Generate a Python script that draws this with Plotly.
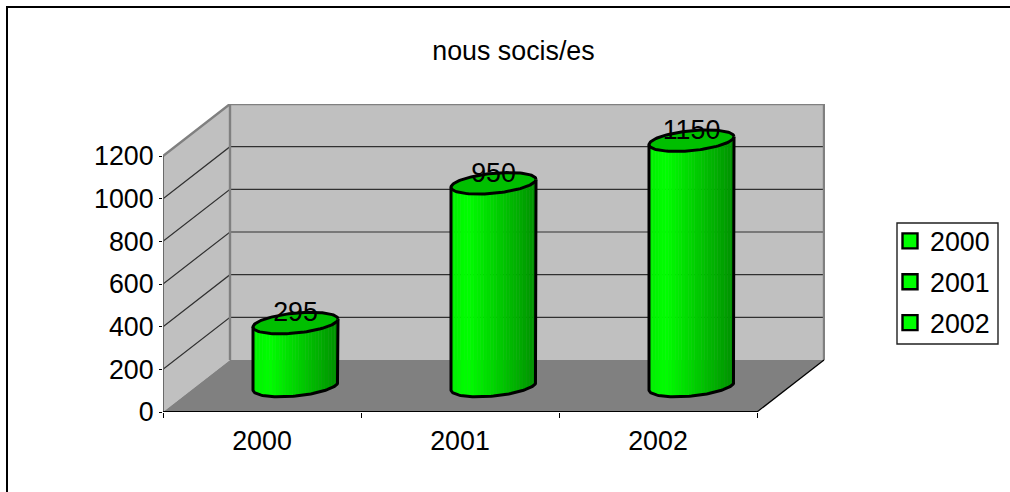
import math
import plotly.graph_objects as go

categories = ["2000", "2001", "2002"]
values = [295, 950, 1150]
y_ticks = [0, 200, 400, 600, 800, 1000, 1200]
title_text = "nous socis/es"

W, H = 1010, 492
L, R, T, B = 163, 825, 104, 412           # plot rectangle in pixels
PX_X = 198.0                              # pixels per category
PX_Y = 256.0 / 1200.0                     # pixels per value unit
DX = 67.0 / PX_X                          # chart depth, in axis units
DY = 52.0 / PX_Y
X0 = -0.5
X1 = 2.5
FONT = "Liberation Sans, Arial, sans-serif"
FS = 26.8
A = 42.5 / PX_X                           # cylinder half-width
EB = 10.0 / PX_Y                          # ellipse half-height
ES = 4.0 / PX_Y                           # ellipse tilt

fig = go.Figure()


def poly(xs, ys, fill=None, line=None, width=0, **kw):
    fig.add_trace(go.Scatter(
        x=xs, y=ys, mode="lines", fill="toself" if fill else None,
        fillcolor=fill, line=dict(color=line or "rgba(0,0,0,0)", width=width),
        hoverinfo="skip", showlegend=False, cliponaxis=False, **kw))


# walls and floor
poly([X0, X0 + DX, X0 + DX, X0], [0, DY, 1200 + DY, 1200], fill="#C0C0C0")
poly([X0 + DX, X1 + DX, X1 + DX, X0 + DX], [DY, DY, 1200 + DY, 1200 + DY], fill="#C0C0C0")
poly([X0, X1, X1 + DX, X0 + DX, X0], [0, 0, DY, DY, 0], fill="#808080")

# gridlines
for v in y_ticks[1:-1]:
    poly([X0, X0 + DX, X1 + DX], [v, v + DY, v + DY], line="#303030", width=1.2)

# wall borders
poly([X0, X0 + DX, X1 + DX, X1 + DX], [1200, 1200 + DY, 1200 + DY, DY], line="#808080", width=2.4)
poly([X0 + DX, X0 + DX], [DY, 1200 + DY], line="#808080", width=2.4)
poly([X0, X0], [0, 1200], line="#606060", width=1.8)
poly([X1, X1 + DX], [0, DY], line="#000000", width=1.2)
poly([X0, X1], [0, 0], line="#000000", width=1.8)


def green(u):
    if u < 0.2:
        g = 240 + 15 * u / 0.2
    else:
        g = 255 - (u - 0.2) / 0.8 * 110
    return f"rgb(0,{int(g)},0)"


def arc(cx, cy, n=60, start=0.0, end=math.pi):
    xs, ys = [], []
    for i in range(n + 1):
        t = start + (end - start) * i / n
        xs.append(cx + A * math.cos(t))
        ys.append(cy + ES * math.cos(t) - EB * math.sin(t))
    return xs, ys


# cylinders
for i, v in enumerate(values):
    cx = i + DX / 2
    base = DY / 2
    top = v + DY / 2
    n = 26
    for k in range(n):
        u0, u1 = k / n, (k + 1) / n
        c0, c1 = 2 * u0 - 1, 2 * u1 - 1
        s0 = math.sqrt(max(0, 1 - c0 * c0))
        s1 = math.sqrt(max(0, 1 - c1 * c1))
        xa, xb = cx + A * c0, cx + A * c1
        col = green((u0 + u1) / 2)
        poly([xa, xb, xb, xa, xa],
             [base + ES * c0 - EB * s0, base + ES * c1 - EB * s1,
              top + ES * c1 - EB * s1, top + ES * c0 - EB * s0, base + ES * c0 - EB * s0],
             fill=col, line=col, width=0.5)
    # outline of the side
    ax, ay = arc(cx, base)
    poly([cx + A] + ax + [cx - A], [top + ES] + ay + [top - ES], line="#000000", width=3)
    # top ellipse
    ex, ey = arc(cx, top, n=120, start=0, end=2 * math.pi)
    poly(ex, ey, fill="#00BF00", line="#000000", width=3)

# data labels
fig.add_trace(go.Scatter(
    x=[i + DX / 2 for i in range(len(values))],
    y=[v + DY / 2 + 8.5 / PX_Y for v in values],
    text=[str(v) for v in values], mode="text", textposition="middle center",
    textfont=dict(family=FONT, size=FS, color="#000000"),
    hoverinfo="skip", showlegend=False, cliponaxis=False))

# legend entries
for c in categories:
    fig.add_trace(go.Scatter(
        x=[None], y=[None], mode="markers", name=c, legendgroup=c,
        marker=dict(symbol="square", size=15, color="#00FF00",
                    line=dict(color="#000000", width=2.4))))


def px(x):
    return (x - L) / (R - L)


def py(y):
    return (B - y) / (B - T)


fig.update_layout(
    width=W, height=H, autosize=False,
    margin=dict(l=L, r=W - R, t=T, b=H - B, pad=0, autoexpand=False),
    paper_bgcolor="#FFFFFF", plot_bgcolor="#FFFFFF",
    font=dict(family=FONT, size=FS, color="#000000"),
    title=dict(text=title_text, x=513.5 / W, xref="container", xanchor="center",
               y=1 - 50.5 / H, yref="container", yanchor="middle",
               font=dict(family=FONT, size=FS, color="#000000")),
    xaxis=dict(range=[X0, X0 + (R - L) / PX_X], tickvals=list(range(3)), ticktext=categories,
               showgrid=False, zeroline=False, showline=False,
               ticks="outside", ticklen=1, tickcolor="rgba(0,0,0,0)", ticklabelstandoff=4,
               minor=dict(tickvals=[-0.5, 0.5, 1.5, 2.5], ticks="outside", ticklen=5,
                          tickcolor="#000000", tickwidth=1),
               tickfont=dict(family=FONT, size=FS)),
    yaxis=dict(range=[0, (B - T) / PX_Y], tickvals=y_ticks,
               showgrid=False, zeroline=False, showline=False,
               ticks="outside", ticklen=3, tickcolor="#000000", tickwidth=1, ticklabelstandoff=0,
               tickfont=dict(family=FONT, size=FS)),
    legend=dict(x=px(890), y=py(217), xanchor="left", yanchor="top",
                bgcolor="rgba(0,0,0,0)", borderwidth=0,
                tracegroupgap=3, itemwidth=30, font=dict(family=FONT, size=FS)),
    shapes=[dict(type="path", xref="paper", yref="paper",
                 path=f"M{px(7)},{py(H)} L{px(7)},{py(7)} L{px(W)},{py(7)}",
                 line=dict(color="#000000", width=2)),
            dict(type="rect", xref="paper", yref="paper",
                 x0=px(897), x1=px(998), y0=py(344), y1=py(223),
                 fillcolor="#FFFFFF", line=dict(color="#202020", width=1.4))],
)

fig.write_html("out.html", config={"displayModeBar": False},
               post_script="document.body.style.margin='0';document.body.style.overflow='hidden';")
